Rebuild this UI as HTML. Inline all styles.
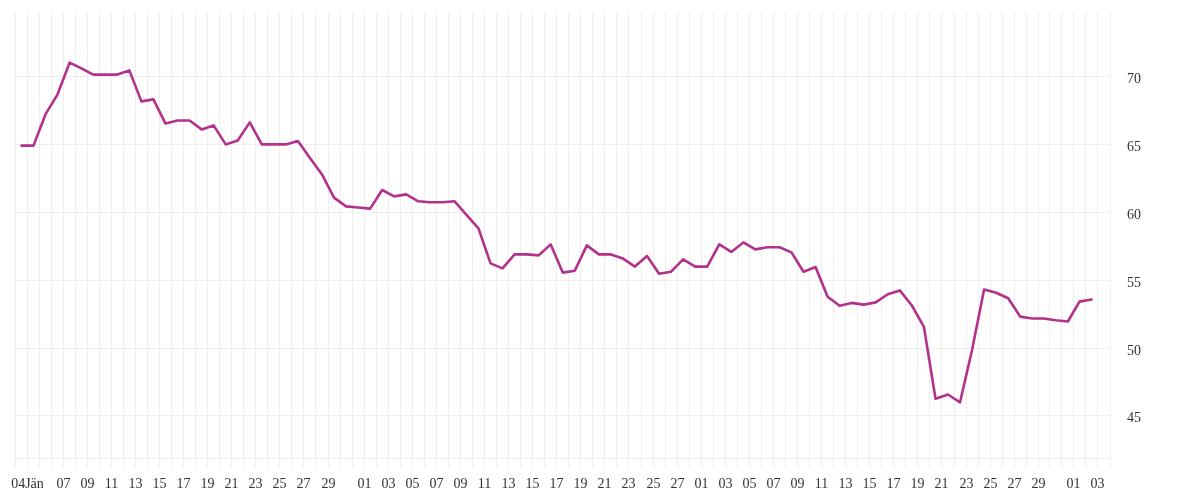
<!DOCTYPE html>
<html><head><meta charset="utf-8"><style>
html,body{margin:0;padding:0;background:#fff;}
body{width:1200px;height:500px;overflow:hidden;}
svg{display:block;} .t{will-change:transform;}
text{font-family:"Liberation Serif",serif;font-size:14px;fill:#333;}
</style></head><body>
<svg width="1200" height="500" viewBox="0 0 1200 500">
<path d="M15.5 12V468 M27.5 12V468 M39.5 12V468 M51.5 12V468 M63.5 12V468 M75.5 12V468 M87.5 12V468 M99.5 12V468 M111.5 12V468 M123.5 12V468 M135.5 12V468 M147.5 12V468 M159.5 12V468 M171.5 12V468 M183.5 12V468 M195.5 12V468 M207.5 12V468 M219.5 12V468 M231.5 12V468 M243.5 12V468 M255.5 12V468 M267.5 12V468 M279.5 12V468 M291.5 12V468 M303.5 12V468 M315.5 12V468 M328.5 12V468 M340.5 12V468 M352.5 12V468 M364.5 12V468 M376.5 12V468 M388.5 12V468 M400.5 12V468 M412.5 12V468 M424.5 12V468 M436.5 12V468 M448.5 12V468 M460.5 12V468 M472.5 12V468 M484.5 12V468 M496.5 12V468 M508.5 12V468 M520.5 12V468 M532.5 12V468 M544.5 12V468 M556.5 12V468 M568.5 12V468 M580.5 12V468 M592.5 12V468 M604.5 12V468 M616.5 12V468 M628.5 12V468 M641.5 12V468 M653.5 12V468 M665.5 12V468 M677.5 12V468 M689.5 12V468 M701.5 12V468 M713.5 12V468 M725.5 12V468 M737.5 12V468 M749.5 12V468 M761.5 12V468 M773.5 12V468 M785.5 12V468 M797.5 12V468 M809.5 12V468 M821.5 12V468 M833.5 12V468 M845.5 12V468 M857.5 12V468 M869.5 12V468 M881.5 12V468 M893.5 12V468 M905.5 12V468 M917.5 12V468 M929.5 12V468 M941.5 12V468 M954.5 12V468 M966.5 12V468 M978.5 12V468 M990.5 12V468 M1002.5 12V468 M1014.5 12V468 M1026.5 12V468 M1038.5 12V468 M1049.5 12V468 M1061.5 12V468 M1073.5 12V468 M1085.5 12V468 M1097.5 12V468 M1110.5 12V468 M15 76.5H1111 M15 144.5H1111 M15 212.5H1111 M15 280.5H1111 M15 348.5H1111 M15 415.5H1111 M15 458.5H1111" stroke="#eeeeee" stroke-width="1" fill="none" shape-rendering="crispEdges"/>
<g class="t" text-anchor="middle"><text x="27.5" y="488">04Jän</text><text x="63.5" y="488">07</text><text x="87.5" y="488">09</text><text x="111.5" y="488">11</text><text x="135.5" y="488">13</text><text x="159.5" y="488">15</text><text x="183.5" y="488">17</text><text x="207.5" y="488">19</text><text x="231.5" y="488">21</text><text x="255.5" y="488">23</text><text x="279.5" y="488">25</text><text x="303.5" y="488">27</text><text x="328.5" y="488">29</text><text x="364.5" y="488">01</text><text x="388.5" y="488">03</text><text x="412.5" y="488">05</text><text x="436.5" y="488">07</text><text x="460.5" y="488">09</text><text x="484.5" y="488">11</text><text x="508.5" y="488">13</text><text x="532.5" y="488">15</text><text x="556.5" y="488">17</text><text x="580.5" y="488">19</text><text x="604.5" y="488">21</text><text x="628.5" y="488">23</text><text x="653.5" y="488">25</text><text x="677.5" y="488">27</text><text x="701.5" y="488">01</text><text x="725.5" y="488">03</text><text x="749.5" y="488">05</text><text x="773.5" y="488">07</text><text x="797.5" y="488">09</text><text x="821.5" y="488">11</text><text x="845.5" y="488">13</text><text x="869.5" y="488">15</text><text x="893.5" y="488">17</text><text x="917.5" y="488">19</text><text x="941.5" y="488">21</text><text x="966.5" y="488">23</text><text x="990.5" y="488">25</text><text x="1014.5" y="488">27</text><text x="1038.5" y="488">29</text><text x="1073.5" y="488">01</text><text x="1097.5" y="488">03</text></g>
<g class="t"><text x="1127" y="82.5">70</text><text x="1127" y="150.5">65</text><text x="1127" y="218.5">60</text><text x="1127" y="286.5">55</text><text x="1127" y="354.5">50</text><text x="1127" y="421.5">45</text></g>
<polyline points="21.47,145.6 33.51,145.6 45.55,114.2 57.58,94.3 69.62,62.6 81.46,68.4 93.25,74.6 105.29,74.6 117.33,74.6 129.37,70.4 141.40,101.4 153.44,99.4 165.48,123.6 177.52,120.5 189.56,120.5 201.60,129.4 213.63,125.4 225.67,144.4 237.71,140.5 249.75,122.4 261.79,144.4 273.83,144.4 285.87,144.4 297.90,141.0 309.94,158.0 321.98,174.4 334.02,197.6 346.06,206.4 358.10,207.5 370.14,208.6 382.17,190.0 394.21,196.4 406.25,194.4 418.29,201.3 430.33,202.3 442.37,202.3 454.40,201.2 466.44,214.8 478.48,228.4 490.52,263.4 502.56,268.4 514.60,254.4 526.64,254.4 538.67,255.4 550.71,244.4 562.75,272.6 574.79,270.7 586.83,245.4 598.87,254.4 610.90,254.4 622.94,258.6 634.98,266.6 647.02,256.0 659.06,273.7 671.10,271.7 683.14,259.3 695.17,266.6 707.21,266.6 719.25,244.4 731.29,251.9 743.33,242.4 755.37,249.4 767.40,247.3 779.44,247.3 791.48,252.4 803.52,271.7 815.56,267.0 827.60,296.8 839.64,305.7 851.67,302.9 863.71,304.6 875.75,302.4 887.79,294.2 899.83,290.4 911.87,305.5 923.91,326.8 935.54,398.8 947.98,394.5 960.02,402.3 972.06,350.0 984.10,289.5 996.14,292.8 1008.17,298.2 1020.21,316.6 1032.25,318.5 1043.79,318.5 1055.83,320.3 1067.87,321.5 1079.50,301.6 1091.54,299.5" fill="none" stroke="#b3318b" stroke-width="2.6" stroke-linejoin="round" stroke-linecap="round"/>
</svg>
</body></html>
